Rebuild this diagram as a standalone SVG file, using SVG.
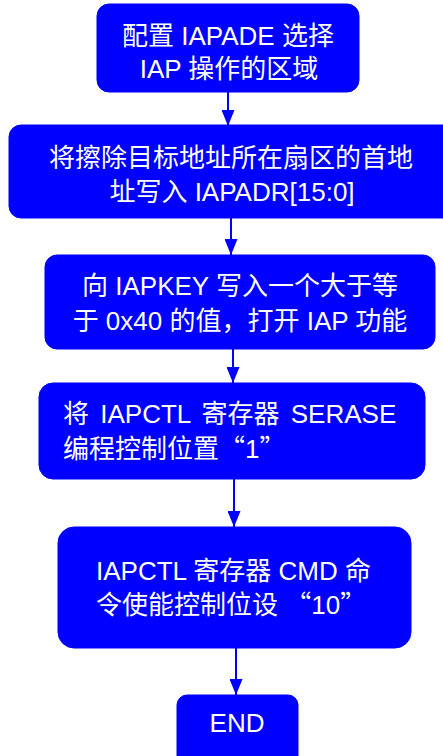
<svg xmlns="http://www.w3.org/2000/svg" width="443" height="756" viewBox="0 0 443 756">
<style>
.box{fill:#0000FF;stroke:#0000FF;stroke-width:1}
.t{fill:#FFFFFF;font-family:"Liberation Sans","Noto Sans CJK SC",sans-serif;font-size:26px}
.c{text-anchor:middle}
.q{font-family:"Noto Sans CJK SC",sans-serif}
.ln{stroke:#0000FF;stroke-width:2;fill:none}
</style>
<defs>
<marker id="ah" markerWidth="16" markerHeight="13" refX="16" refY="6.5" orient="auto" markerUnits="userSpaceOnUse">
<path d="M0,0 L16,6.5 L0,13 Z" fill="#0000FF"/>
</marker>
</defs>
<g id="connectors">
<line class="ln" x1="228" y1="92" x2="228" y2="126" marker-end="url(#ah)"/>
<line class="ln" x1="231" y1="218" x2="231" y2="255" marker-end="url(#ah)"/>
<line class="ln" x1="233" y1="349" x2="233" y2="383" marker-end="url(#ah)"/>
<line class="ln" x1="234" y1="479" x2="234" y2="527" marker-end="url(#ah)"/>
<line class="ln" x1="236" y1="648" x2="236" y2="695" marker-end="url(#ah)"/>
</g>
<g id="n1">
<rect class="box" x="97" y="4" width="262" height="88" rx="12"/>
<text class="t c" x="228" y="45">配置 IAPADE 选择</text>
<text class="t c" x="229" y="78">IAP 操作的区域</text>
</g>
<g id="n2">
<rect class="box" x="9" y="125" width="446" height="93" rx="12"/>
<text class="t c" x="231" y="167">将擦除目标地址所在扇区的首地</text>
<text class="t c" x="232" y="201">址写入 IAPADR[15:0]</text>
</g>
<g id="n3">
<rect class="box" x="45" y="255" width="390" height="94" rx="12"/>
<text class="t c" x="240" y="295">向 IAPKEY 写入一个大于等</text>
<text class="t c" x="240" y="330">于 0x40 的值，打开 IAP 功能</text>
</g>
<g id="n4">
<rect class="box" x="39" y="383" width="386" height="96" rx="14"/>
<text class="t" x="63" y="423" word-spacing="4">将 IAPCTL 寄存器 SERASE</text>
<text class="t" x="63" y="458">编程控制位置<tspan class="q">“</tspan>1<tspan class="q">”</tspan></text>
</g>
<g id="n5">
<rect class="box" x="58" y="527" width="353" height="121" rx="16"/>
<text class="t" x="96" y="580">IAPCTL 寄存器 CMD 命</text>
<text class="t" x="96" y="614">令使能控制位设 <tspan class="q">“</tspan>10<tspan class="q">”</tspan></text>
</g>
<g id="n6">
<rect class="box" x="177" y="695" width="121" height="75" rx="10"/>
<text class="t c" x="237" y="732">END</text>
</g>
</svg>
